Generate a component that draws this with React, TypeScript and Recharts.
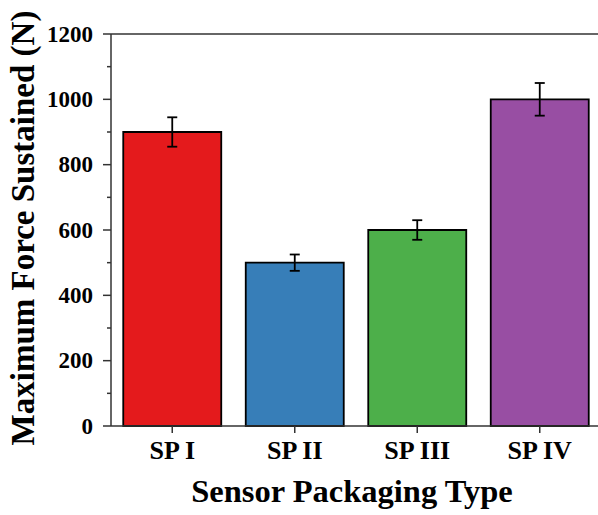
import React from "react";
import { BarChart, Bar, XAxis, YAxis, Cell, ErrorBar, ReferenceLine, Label } from "recharts";

const categories = ["SP I", "SP II", "SP III", "SP IV"];
const forces = [900, 500, 600, 1000];
const errors = [45, 25, 30, 50];
const colors = ["#E41A1C", "#377EB8", "#4DAF4A", "#984EA3"];
const yTicks = [0, 100, 200, 300, 400, 500, 600, 700, 800, 900, 1000, 1100, 1200];

const data = categories.map((c, i) => ({ name: c, force: forces[i], err: errors[i] }));

const FONT = "'Liberation Serif', 'Times New Roman', serif";

const YTick = (props: any) => {
  const { x, y, payload } = props;
  const v = payload.value;
  const major = v % 200 === 0;
  const axisX = x + 10;
  return (
    <g>
      <line x1={axisX - (major ? 8 : 4)} x2={axisX} y1={y} y2={y} stroke="#333" strokeWidth={1.5} />
      {major && (
        <text x={x - 8} y={y} dy={7.5} textAnchor="end" fontFamily={FONT} fontWeight="bold" fontSize={23} fill="#000">
          {v}
        </text>
      )}
    </g>
  );
};

const XTick = (props: any) => {
  const { x, y, payload } = props;
  return (
    <text x={x} y={y} dy={19} textAnchor="middle" fontFamily={FONT} fontWeight="bold" fontSize={26} fill="#000">
      {payload.value}
    </text>
  );
};

const YTitle = (props: any) => {
  const vb = props.viewBox;
  const x = vb.x + 34;
  const y = vb.y + vb.height / 2 - 2;
  return (
    <text
      x={x}
      y={y}
      transform={`rotate(-90, ${x}, ${y})`}
      textAnchor="middle"
      fontFamily={FONT}
      fontWeight="bold"
      fontSize={33}
      fill="#000"
    >
      Maximum Force Sustained (N)
    </text>
  );
};

const XTitle = (props: any) => {
  const vb = props.viewBox;
  const x = vb.x + vb.width / 2 - 4;
  const y = vb.y + 76;
  return (
    <text x={x} y={y} textAnchor="middle" fontFamily={FONT} fontWeight="bold" fontSize={32.5} fill="#000">
      Sensor Packaging Type
    </text>
  );
};

export default function App() {
  return (
    <div style={{ position: "absolute", left: 0, top: 0, width: 598, height: 515, background: "#fff" }}>
      <BarChart
        width={598}
        height={515}
        data={data}
        margin={{ top: 34, right: -3, left: 0, bottom: 0 }}
        barCategoryGap="10%"
      >
        <XAxis
          dataKey="name"
          height={89}
          axisLine={{ stroke: "#333", strokeWidth: 1.5 }}
          tickLine={{ stroke: "#333", strokeWidth: 1.5 }}
          tickSize={7}
          tickMargin={7}
          tick={<XTick />}
        >
          <Label content={<XTitle />} />
        </XAxis>
        <YAxis
          type="number"
          domain={[0, 1200]}
          ticks={yTicks}
          interval={0}
          width={111}
          axisLine={{ stroke: "#333", strokeWidth: 1.5 }}
          tickLine={false}
          tickSize={6}
          tickMargin={4}
          tick={<YTick />}
        >
          <Label content={<YTitle />} />
        </YAxis>
        <ReferenceLine y={1200} stroke="#333" strokeWidth={1.5} ifOverflow="visible" />
        <Bar dataKey="force" stroke="#000" strokeWidth={1.8} isAnimationActive={false}>
          {data.map((d, i) => (
            <Cell key={d.name} fill={colors[i]} />
          ))}
          <ErrorBar dataKey="err" width={5} stroke="#000" strokeWidth={1.8} />
        </Bar>
      </BarChart>
    </div>
  );
}
